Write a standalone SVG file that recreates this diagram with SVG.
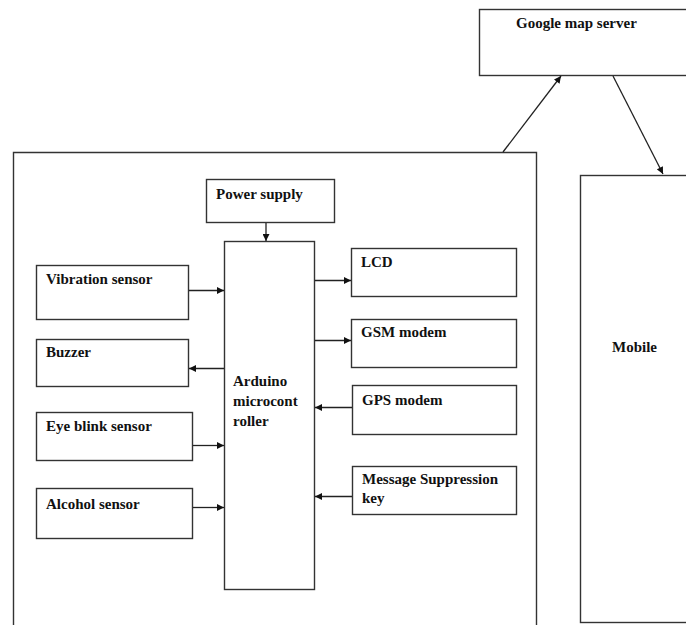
<svg xmlns="http://www.w3.org/2000/svg" width="686" height="625" viewBox="0 0 686 625">
<defs>
<marker id="ah" viewBox="0 0 10 10" refX="10" refY="5" markerWidth="8" markerHeight="7" markerUnits="userSpaceOnUse" orient="auto">
<path d="M0,0 L10,5 L0,10 z" fill="#111"/>
</marker>
<style>
.box{fill:#fff;stroke:#333;stroke-width:1.4}
.t{font-family:"Liberation Serif","Times New Roman",serif;font-weight:bold;font-size:15px;fill:#111}
.c{stroke:#222;stroke-width:1.3;fill:none;marker-end:url(#ah)}
</style>
</defs>
<rect width="686" height="625" fill="#fff"/>
<g id="outer"><path class="box" d="M13.5,630 V152.5 H536.5 V630" fill="none"/></g>
<g id="google"><rect class="box" x="479.5" y="9.5" width="215" height="66"/><text class="t" x="516" y="28">Google map server</text></g>
<g id="mobile"><rect class="box" x="580.5" y="175.5" width="115" height="447"/><text class="t" x="612" y="352">Mobile</text></g>
<g id="power"><rect class="box" x="206.5" y="179.5" width="128" height="43"/><text class="t" x="216" y="199">Power supply</text></g>
<g id="arduino"><rect class="box" x="224.5" y="241.5" width="90" height="348"/><text class="t" x="233" y="386">Arduino</text><text class="t" x="233" y="406">microcont</text><text class="t" x="233" y="426">roller</text></g>
<g id="vibration"><rect class="box" x="36.5" y="265.5" width="152" height="54"/><text class="t" x="46" y="284">Vibration sensor</text></g>
<g id="buzzer"><rect class="box" x="36.5" y="339.5" width="152" height="47"/><text class="t" x="46" y="357">Buzzer</text></g>
<g id="eyeblink"><rect class="box" x="36.5" y="412.5" width="156" height="48"/><text class="t" x="46" y="431">Eye blink sensor</text></g>
<g id="alcohol"><rect class="box" x="36.5" y="488.5" width="156" height="50"/><text class="t" x="46" y="509">Alcohol sensor</text></g>
<g id="lcd"><rect class="box" x="351.5" y="248.5" width="165" height="48"/><text class="t" x="361" y="267">LCD</text></g>
<g id="gsm"><rect class="box" x="351.5" y="319.5" width="165" height="48"/><text class="t" x="361" y="337">GSM modem</text></g>
<g id="gps"><rect class="box" x="352.5" y="385.5" width="164" height="49"/><text class="t" x="362" y="405">GPS modem</text></g>
<g id="msgkey"><rect class="box" x="352.5" y="466.5" width="164" height="48"/><text class="t" x="362" y="484">Message Suppression</text><text class="t" x="362" y="503">key</text></g>
<g id="connectors">
<line class="c" x1="503" y1="152" x2="561" y2="76"/>
<line class="c" x1="613" y1="76" x2="663" y2="174"/>
<line class="c" x1="266" y1="223" x2="266" y2="241"/>
<line class="c" x1="189" y1="290.5" x2="224" y2="290.5"/>
<line class="c" x1="224" y1="368.5" x2="189" y2="368.5"/>
<line class="c" x1="193" y1="445.5" x2="224" y2="445.5"/>
<line class="c" x1="193" y1="507.5" x2="224" y2="507.5"/>
<line class="c" x1="315" y1="280.5" x2="351" y2="280.5"/>
<line class="c" x1="315" y1="340.5" x2="351" y2="340.5"/>
<line class="c" x1="352" y1="407.5" x2="315" y2="407.5"/>
<line class="c" x1="352" y1="496.5" x2="315" y2="496.5"/>
</g>
</svg>
